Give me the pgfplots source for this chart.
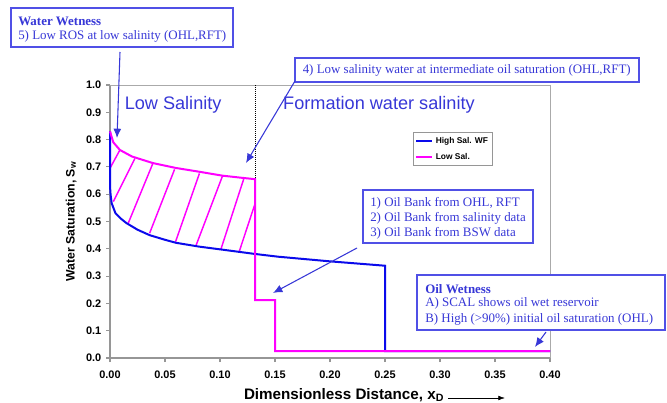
\documentclass[border=0pt]{standalone}
\usepackage{fontspec}
\setmainfont{Liberation Serif}
\setsansfont{Liberation Sans}
\usepackage{pgfplots}
\pgfplotsset{compat=1.18}
\usetikzlibrary{arrows.meta}
\definecolor{annot}{RGB}{55,55,215}
\definecolor{boxc}{RGB}{80,80,230}
\definecolor{hsblue}{RGB}{10,10,235}
\definecolor{lsmag}{RGB}{255,0,255}
\definecolor{axgray}{RGB}{150,150,150}
\definecolor{frgray}{RGB}{170,170,170}
\begin{document}
\begin{tikzpicture}[x=0.75pt,y=0.75pt]
\useasboundingbox (0,0) rectangle (667,403);
\begin{axis}[
  at={(82.5pt,33.75pt)}, anchor=south west,
  scale only axis, width=330pt, height=204.75pt,
  xmin=0, xmax=0.4, ymin=0, ymax=1,
  clip=false,
  axis lines*=left,
  axis line style={axgray, line width=1.2pt},
  tick style={axgray, line width=0.8pt},
  tick align=outside,
  major tick length=3pt,
  xtick={0,0.05,0.10,0.15,0.20,0.25,0.30,0.35,0.40},
  ytick={0,0.1,0.2,0.3,0.4,0.5,0.6,0.7,0.8,0.9,1.0},
  /pgf/number format/assume math mode=true,
  xticklabel style={yshift=-3pt, /pgf/number format/.cd, fixed, fixed zerofill, precision=2},
  yticklabel style={/pgf/number format/.cd, fixed, fixed zerofill, precision=1},
  ticklabel style={font=\sffamily\bfseries\fontsize{8.2}{9}\selectfont},
  xlabel={Dimensionless Distance, x\textsubscript{D}},
  ylabel={Water Saturation, S\textsubscript{w}},
  xlabel style={at={(axis description cs:0.532,-0.135)}, anchor=center, font=\sffamily\bfseries\fontsize{11.4}{13}\selectfont},
  ylabel style={at={(axis description cs:-0.0886,0.5)}, anchor=center, font=\sffamily\bfseries\fontsize{9.2}{11}\selectfont},
  legend style={at={(0.6886,0.828)}, anchor=north west, draw=axgray, line width=0.6pt,
    font=\sffamily\bfseries\fontsize{6.3}{7}\selectfont, inner sep=1.5pt, row sep=2pt},
  legend cell align=left,
  legend image code/.code={\draw[#1,line width=1.3pt] (0pt,0pt) -- (12pt,0pt);},
]
% plot area border (top and right)
\draw[frgray, line width=0.6pt] (rel axis cs:0,1) -- (rel axis cs:1,1) -- (rel axis cs:1,0);
% dotted divider
\addplot[black, densely dotted, line width=0.5pt, forget plot] coordinates {(0.132,0.655) (0.132,1.0)};
% hatching between curves
\addplot[lsmag, line width=1.1pt, forget plot] coordinates {(0.000,0.695) (0.009,0.762)};
\addplot[lsmag, line width=1.1pt, forget plot] coordinates {(0.003,0.573) (0.0226,0.731)};
\addplot[lsmag, line width=1.1pt, forget plot] coordinates {(0.0165,0.493) (0.039,0.713)};
\addplot[lsmag, line width=1.1pt, forget plot] coordinates {(0.036,0.457) (0.0587,0.691)};
\addplot[lsmag, line width=1.1pt, forget plot] coordinates {(0.0596,0.426) (0.0813,0.676)};
\addplot[lsmag, line width=1.1pt, forget plot] coordinates {(0.078,0.410) (0.1023,0.667)};
\addplot[lsmag, line width=1.1pt, forget plot] coordinates {(0.1008,0.398) (0.1219,0.660)};
\addplot[lsmag, line width=1.1pt, forget plot] coordinates {(0.1174,0.389) (0.132,0.567)};
% High salinity waterflood
\addplot[hsblue, line width=1.5pt] coordinates {
 (0,0.83) (0,0.63) (0.0005,0.600) (0.0015,0.567) (0.005,0.530) (0.010,0.510)
 (0.015,0.494) (0.025,0.470) (0.036,0.450) (0.050,0.433) (0.060,0.422)
 (0.081,0.408) (0.100,0.398) (0.117,0.389) (0.132,0.381) (0.153,0.371)
 (0.200,0.354) (0.250,0.338) (0.250,0.025) (0.400,0.025)};
\addlegendentry{High Sal. WF}
% Low salinity
\addplot[lsmag, line width=1.5pt] coordinates {
 (0,0.83) (0.003,0.790) (0.009,0.762) (0.020,0.738) (0.039,0.714)
 (0.060,0.696) (0.080,0.683) (0.102,0.668) (0.120,0.660) (0.132,0.655)
 (0.132,0.212) (0.150,0.212) (0.150,0.025) (0.400,0.025)};
\addlegendentry{Low Sal.}
\node[annot, font=\sffamily\fontsize{13.6}{15}\selectfont] at (axis cs:0.0574,0.927) {Low Salinity};
\node[annot, font=\sffamily\fontsize{13.6}{15}\selectfont] at (axis cs:0.2445,0.927) {Formation water salinity};
\end{axis}
% x-label arrow
\draw[black, line width=0.5pt, -{Latex[length=5pt,width=3.5pt]}] (448,5) -- (505,5);
% annotation boxes
\begin{scope}[font=\fontsize{9.7}{11}\selectfont]
\draw[boxc, line width=0.8pt, fill=white] (11,395) rectangle (233,356);
\node[annot, anchor=west, inner sep=0] at (18,381.5) {\textbf{Water Wetness}};
\node[annot, anchor=west, inner sep=0] at (18,366.5) {5) Low ROS at low salinity (OHL,RFT)};
\draw[boxc, line width=0.8pt, fill=white] (295,345) rectangle (639,321);
\node[annot, anchor=west, inner sep=0] at (302.5,332.5) {4) Low salinity water at intermediate oil saturation (OHL,RFT)};
\draw[boxc, line width=0.8pt, fill=white] (363,213) rectangle (533,160);
\node[annot, anchor=west, inner sep=0] at (370,199.7) {1) Oil Bank from OHL, RFT};
\node[annot, anchor=west, inner sep=0] at (370,184.7) {2) Oil Bank from salinity data};
\node[annot, anchor=west, inner sep=0] at (370,169.7) {3) Oil Bank from BSW data};
\draw[boxc, line width=0.8pt, fill=white] (417,128) rectangle (665,73);
\node[annot, anchor=west, inner sep=0] at (425,113.7) {\textbf{Oil Wetness}};
\node[annot, anchor=west, inner sep=0] at (425,99.7) {A) SCAL shows oil wet reservoir};
\node[annot, anchor=west, inner sep=0] at (425,83.5) {B) High (>90\%) initial oil saturation (OHL)};
\end{scope}
% arrows
\begin{scope}[annot, line width=0.8pt, -{Latex[length=7pt,width=6pt]}]
\draw (120,351) -- (117,265);
\draw (295,322) -- (246,240);
\draw (357,155) -- (273,110);
\draw (546,71) -- (535,56);
\end{scope}
\end{tikzpicture}
\end{document}
